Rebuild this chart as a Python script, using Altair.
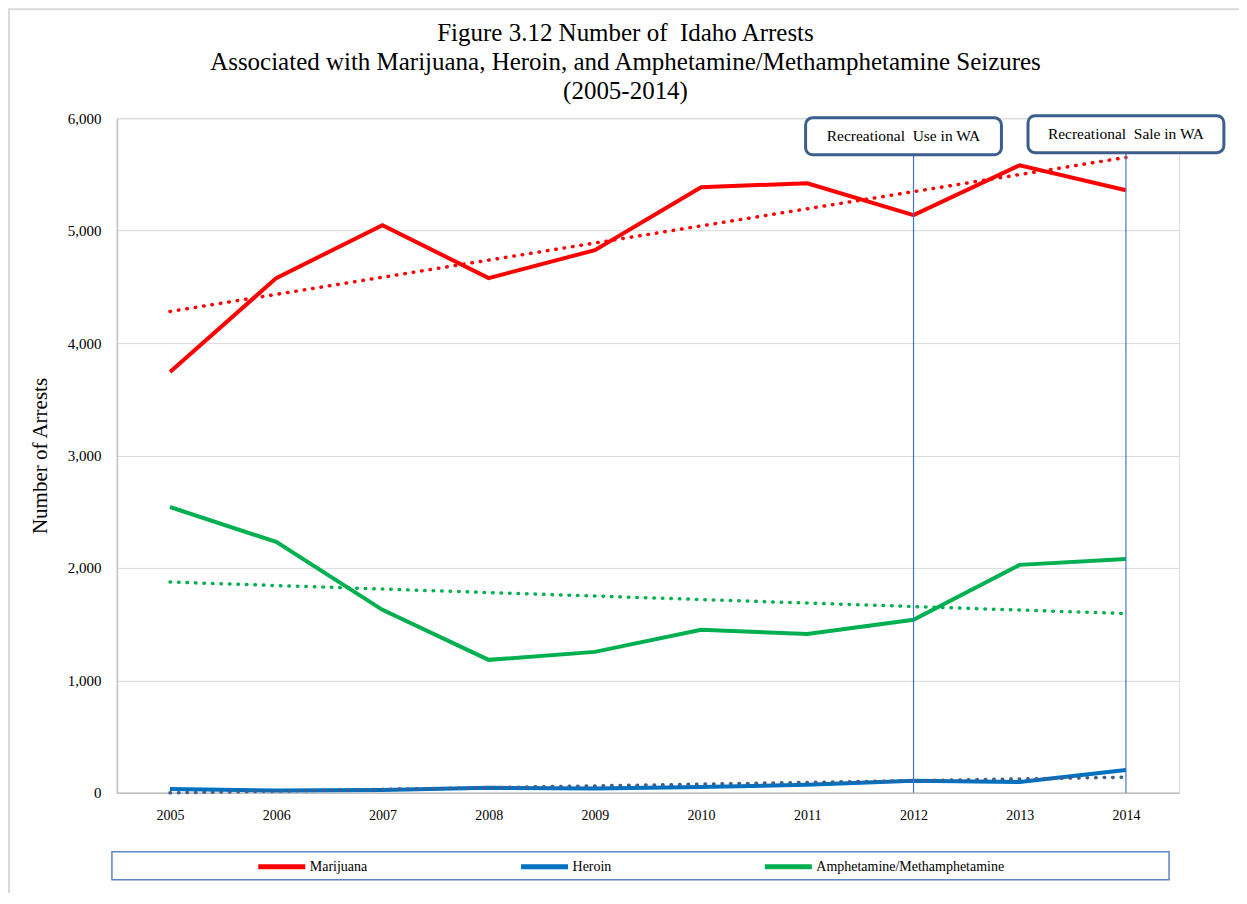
import altair as alt
import pandas as pd

years = [2005, 2006, 2007, 2008, 2009, 2010, 2011, 2012, 2013, 2014]
marijuana = [3742, 4578, 5049, 4578, 4827, 5387, 5422, 5138, 5582, 5360]
heroin = [33, 20, 24, 44, 38, 50, 72, 107, 95, 202]
amphet = [2542, 2231, 1627, 1182, 1253, 1449, 1413, 1538, 2027, 2080]
series_names = ["Marijuana", "Heroin", "Amphetamine/Methamphetamine"]
line_colors = ["#FF0000", "#0070C0", "#00B050"]
trend_colors = ["#FF0000", "#3F5F8F", "#00B050"]
y_ticks = [0, 1000, 2000, 3000, 4000, 5000, 6000]

callout_years = [2012, 2014]
callout_texts = ["Recreational\u00a0 Use in WA", "Recreational\u00a0 Sale in WA"]
callout_centers = [5840, 5858]
rule_tops = [5671, 5689]
callout_dx = [-10, 0]

title_lines = [
    "Figure 3.12 Number of\u00a0 Idaho Arrests",
    "Associated with Marijuana, Heroin, and Amphetamine/Methamphetamine Seizures",
    "(2005-2014)",
]

FONT = "Liberation Serif"
W, H = 1063, 675

rows = []
for name, vals in zip(series_names, [marijuana, heroin, amphet]):
    for yr, v in zip(years, vals):
        rows.append({"year": yr, "value": v, "series": name})
df = pd.DataFrame(rows)

x_scale = alt.Scale(domain=[2004.5, 2014.5], nice=False, zero=False)
y_scale = alt.Scale(domain=[0, 6000], nice=False)

x_enc = alt.X("year:Q", scale=x_scale,
              axis=alt.Axis(values=years, format="d", ticks=False, grid=False,
                            domainColor="#bfbfbf", domainWidth=1.5,
                            labelFont=FONT, labelFontSize=14, labelColor="#000000",
                            labelPadding=16, title=None))
y_enc = alt.Y("value:Q", scale=y_scale,
              axis=alt.Axis(values=y_ticks, format=",d", ticks=False,
                            gridColor="#d9d9d9", domainColor="#bfbfbf", domainWidth=1.5,
                            labelFont=FONT, labelFontSize=15, labelColor="#000000",
                            labelPadding=16, title="Number of Arrests",
                            titleFont=FONT, titleFontSize=21, titleFontWeight="normal",
                            titleColor="#000000", titlePadding=17))

one = pd.DataFrame({"a": [0]})

frame = alt.Chart(one).mark_rect(fill="transparent", stroke="#d9d9d9", strokeWidth=2).encode(
    x=alt.value(-108), x2=alt.value(1250), y=alt.value(-109), y2=alt.value(900))

legend_box = alt.Chart(one).mark_rect(fill="transparent", stroke="#5B86C8", strokeWidth=1.5).encode(
    x=alt.value(-5), x2=alt.value(1053), y=alt.value(734), y2=alt.value(762))

title_df = pd.DataFrame({"line": title_lines, "idx": [0, 1, 2]})
title_marks = []
for i, ty in enumerate([-85, -56, -27]):
    title_marks.append(
        alt.Chart(title_df).transform_filter(alt.datum.idx == i).mark_text(
            font=FONT, fontSize=25, color="#000000", baseline="middle", align="center"
        ).encode(x=alt.value(509), y=alt.value(ty), text="line:N"))

lines = alt.Chart(df).mark_line(strokeWidth=4).encode(
    x=x_enc, y=y_enc,
    color=alt.Color("series:N", sort=series_names,
                    scale=alt.Scale(domain=series_names, range=line_colors),
                    legend=alt.Legend(title=None, orient="none", legendX=139, legendY=723,
                                      direction="horizontal", symbolType="stroke",
                                      symbolSize=2209, symbolStrokeWidth=5,
                                      labelFont=FONT, labelFontSize=14, labelColor="#000000",
                                      labelLimit=400, labelOffset=2, columnPadding=143,
                                      padding=0)),
    order=alt.Order("year:Q"))

trends = alt.Chart(df).transform_regression(
    "year", "value", groupby=["series"]
).mark_line(strokeWidth=3.5, strokeDash=[0.5, 8], strokeCap="round").encode(
    x=alt.X("year:Q", scale=x_scale),
    y=alt.Y("value:Q", scale=y_scale),
    color=alt.Color("series:N", scale=alt.Scale(domain=series_names, range=trend_colors), legend=None))

cdf = pd.DataFrame({"year": callout_years, "text": callout_texts,
                    "center": callout_centers, "top": rule_tops, "dx": callout_dx})

rules = alt.Chart(cdf).mark_rule(color="#4472C4", strokeWidth=1.2).encode(
    x=alt.X("year:Q", scale=x_scale), y=alt.Y("top:Q", scale=y_scale), y2=alt.datum(0))

callouts = []
for i in range(len(callout_years)):
    sub = alt.Chart(cdf).transform_filter(alt.datum.year == callout_years[i])
    box = sub.mark_rect(width=196, height=37, cornerRadius=7, fill="#ffffff",
                        stroke="#3B5E8C", strokeWidth=3, xOffset=callout_dx[i]).encode(
        x=alt.X("year:Q", scale=x_scale), y=alt.Y("center:Q", scale=y_scale))
    txt = sub.mark_text(font=FONT, fontSize=15.5, color="#000000", dx=callout_dx[i]).encode(
        x=alt.X("year:Q", scale=x_scale), y=alt.Y("center:Q", scale=y_scale), text="text:N")
    callouts += [box, txt]

chart = alt.layer(frame, legend_box, *title_marks, lines, trends, rules, *callouts).resolve_scale(
    color="independent"
).properties(
    width=W, height=H,
    autosize=alt.AutoSizeParams(type="none"),
    padding={"left": 109, "top": 110, "right": 60, "bottom": 100},
).configure_view(stroke=None).configure(background="#ffffff")

chart.save("out.html", embed_options={"renderer": "svg", "actions": False})
